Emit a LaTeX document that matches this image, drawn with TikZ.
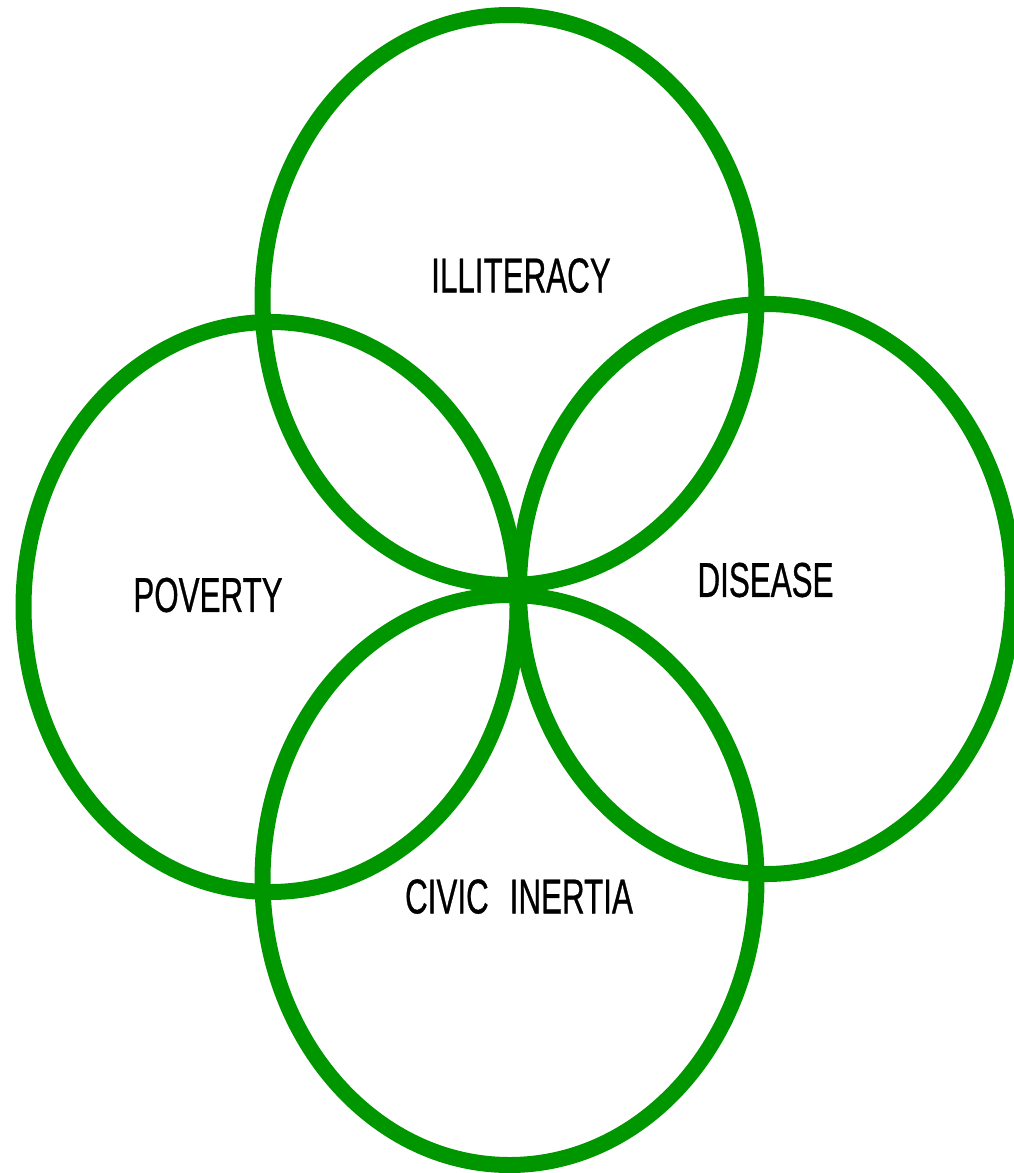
\documentclass[tikz,border=0pt]{standalone}
\usepackage{fontspec}
\newfontfamily\labelfont[FakeStretch=0.64, FakeBold=0.6]{Liberation Sans}
\definecolor{RingGreen}{RGB}{0,150,0}
\usepackage{tikz}
\tikzstyle{ring} = [draw=RingGreen, line width=16pt]
\tikzstyle{ringtext} = [inner sep=0pt, text=black, font=\labelfont\fontsize{49}{49}\selectfont]

\begin{document}
\begin{tikzpicture}[x=1pt, y=-1pt]
            \useasboundingbox (0,0) rectangle (1014,1173);
            % the four rings
            \draw[ring] (509.5,300) ellipse [x radius=247, y radius=285];
            \draw[ring] (270.5,607) ellipse [x radius=247, y radius=285];
            \draw[ring] (766,589) ellipse [x radius=247, y radius=285];
            \draw[ring] (509.5,880) ellipse [x radius=247, y radius=285];
            % labels
            \node[ringtext] (illiteracy) at (521,275.5) {ILLITERACY};
            \node[ringtext] (poverty) at (208,595) {POVERTY};
            \node[ringtext] (disease) at (765.5,580) {DISEASE};
            \node[ringtext] (civic) at (519,896.5) {CIVIC\hspace{21pt}INERTIA};
        \end{tikzpicture}
\end{document}
